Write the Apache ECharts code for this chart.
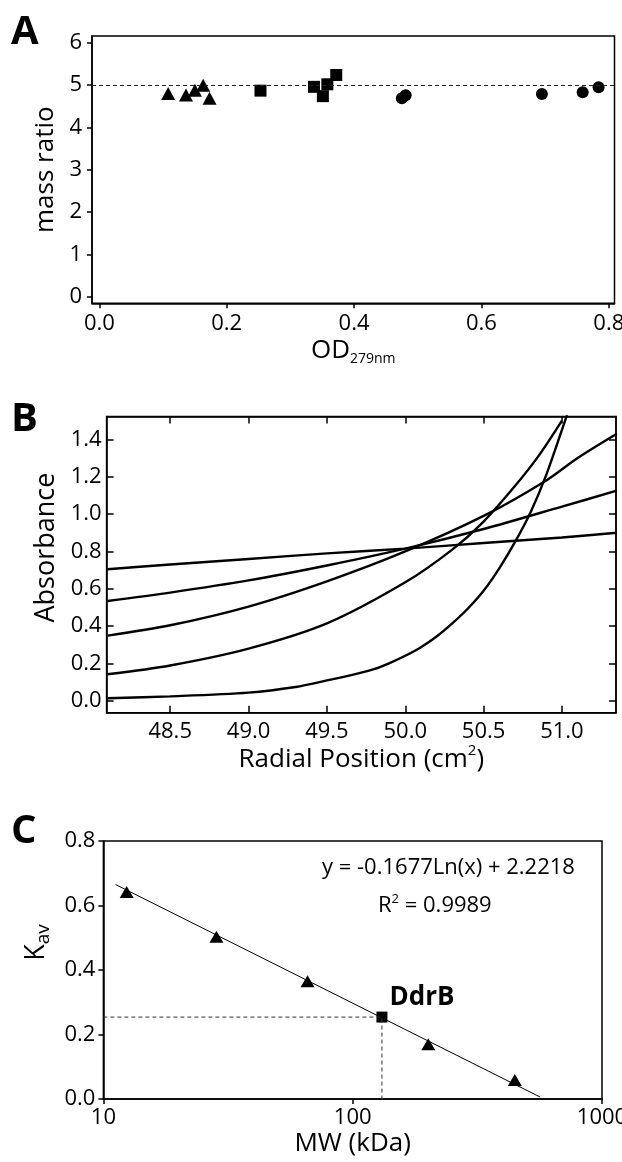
<!DOCTYPE html>
<html>
<head>
<meta charset="utf-8">
<script src="https://cdn.jsdelivr.net/npm/echarts@6/dist/echarts.min.js"></script>
<style>
  html, body { margin: 0; padding: 0; background: #fff; }
  #root { width: 622px; height: 1162px; }
</style>
</head>
<body>
<div id="root"></div>
<script>
// ---- panel A: mass ratio vs OD279nm ----
const triOD = [0.108, 0.136, 0.150, 0.163, 0.173]
const triRatio = [4.80, 4.77, 4.88, 5.00, 4.69]
const sqOD = [0.253, 0.337, 0.351, 0.358, 0.372]
const sqRatio = [4.87, 4.96, 4.74, 5.02, 5.24]
const cirOD = [0.475, 0.481, 0.695, 0.759, 0.784]
const cirRatio = [4.69, 4.76, 4.79, 4.83, 4.95]
const ratioLine = 5
const odTicks = [0, 0.2, 0.4, 0.6, 0.8]
const ratioTicks = [0, 1, 2, 3, 4, 5, 6]

// ---- panel B: absorbance scans ----
const scan1X = [48.1, 48.5, 49.0, 49.5, 50.0, 50.5, 51.0, 51.35]
const scan1Y = [0.705, 0.73, 0.76, 0.79, 0.815, 0.845, 0.875, 0.90]
const scan2X = [48.1, 48.5, 49.0, 49.5, 50.0, 50.5, 51.0, 51.35]
const scan2Y = [0.535, 0.58, 0.645, 0.725, 0.815, 0.92, 1.04, 1.125]
const scan3X = [48.1, 48.5, 49.0, 49.5, 50.0, 50.5, 50.9, 51.1, 51.35]
const scan3Y = [0.35, 0.405, 0.505, 0.64, 0.80, 0.99, 1.18, 1.30, 1.43]
const scan4X = [48.1, 48.5, 49.0, 49.5, 50.0, 50.3, 50.5, 50.7, 50.85, 51.0]
const scan4Y = [0.143, 0.19, 0.28, 0.415, 0.635, 0.81, 0.96, 1.15, 1.31, 1.50]
const scan5X = [48.1, 48.5, 49.0, 49.3, 49.5, 49.7, 49.8, 49.9, 50.0, 50.1, 50.2, 50.3, 50.4, 50.5, 50.6, 50.7, 50.8, 50.9, 51.0, 51.04]
const scan5Y = [0.015, 0.025, 0.045, 0.075, 0.11, 0.148, 0.17, 0.203, 0.242, 0.288, 0.345, 0.415, 0.495, 0.59, 0.71, 0.85, 1.01, 1.21, 1.45, 1.55]
const radialTicks = [48.5, 49.0, 49.5, 50.0, 50.5, 51.0]
const absTicks = [0, 0.2, 0.4, 0.6, 0.8, 1.0, 1.2, 1.4]

// ---- panel C: Kav vs MW ----
const stdMW = [12.4, 28.4, 65.9, 201, 447]
const stdKav = [0.642, 0.503, 0.365, 0.170, 0.059]
const fitMW = [11.2, 565]
const fitKav = [0.665, 0.006]
const ddrbMW = 131
const ddrbKav = 0.254
const mwTicks = [10, 100, 1000]
const kavTicks = [0, 0.2, 0.4, 0.6, 0.8]

const font = 'Open Sans'
const pairs = (xs, ys) => xs.map((x, i) => [x, ys[i]])

const axis = (gridIndex, o) => ({
  gridIndex,
  type: o.type || 'value',
  position: o.position,
  min: o.min,
  max: o.max,
  logBase: o.logBase,
  name: o.name,
  nameLocation: 'middle',
  nameGap: o.nameGap,
  nameTextStyle: o.nameTextStyle,
  axisLine: { show: true, onZero: false, lineStyle: { color: '#000', width: 1.5 } },
  axisTick: {
    show: true,
    inside: !!o.inside,
    length: o.tickLen || 5,
    customValues: o.ticks,
    lineStyle: { color: '#000', width: 1.5 }
  },
  minorTick: { show: false },
  axisLabel: {
    show: o.labels !== false,
    customValues: o.ticks,
    margin: o.margin || 8,
    color: '#000',
    fontSize: 22,
    fontFamily: font,
    formatter: o.formatter || (v => String(v))
  },
  splitLine: { show: false }
})

const fix1 = v => Number(v).toFixed(1)
const frame = { show: true, borderColor: '#000', borderWidth: 1.5, backgroundColor: 'transparent' }
const sub = (size, pad) => ({ fontSize: size, color: '#000', fontFamily: font, padding: pad })
const solid = { color: '#000', opacity: 1 }

const option = {
  animation: false,
  textStyle: { fontFamily: font },
  title: [
    { text: 'A', left: 11, top: 13, padding: 0, textStyle: { fontSize: 40, fontWeight: 'bold', color: '#000' } },
    { text: 'B', left: 11, top: 400, padding: 0, textStyle: { fontSize: 40, fontWeight: 'bold', color: '#000' } },
    { text: 'C', left: 11, top: 812, padding: 0, textStyle: { fontSize: 40, fontWeight: 'bold', color: '#000' } }
  ],
  grid: [
    Object.assign({ left: 92, top: 36, width: 522.5, height: 267.3, outerBoundsMode: 'none' }, frame),
    Object.assign({ left: 106.6, top: 416.5, width: 509.4, height: 296.2, outerBoundsMode: 'none' }, frame),
    Object.assign({ left: 103.4, top: 841, width: 498.6, height: 258, outerBoundsMode: 'none' }, frame)
  ],
  xAxis: [
    axis(0, {
      min: -0.0116, max: 0.809, ticks: odTicks, formatter: fix1, margin: 9,
      name: '{a|OD}{b|279nm}', nameGap: 31,
      nameTextStyle: { rich: { a: sub(26, 0), b: sub(14, [18, 0, 0, 0]) } }
    }),
    axis(1, {
      min: 48.094, max: 51.345, ticks: radialTicks, formatter: fix1, inside: true, tickLen: 7, margin: 8,
      name: '{a|Radial Position (cm}{b|2}{a|)}', nameGap: 31,
      nameTextStyle: { rich: { a: sub(26, 0), b: sub(15, [0, 0, 16, 0]) } }
    }),
    axis(1, { position: 'top', min: 48.094, max: 51.345, ticks: radialTicks, inside: true, tickLen: 7, labels: false }),
    axis(2, {
      type: 'log', logBase: 10, min: 10, max: 1000, ticks: mwTicks, margin: 8,
      name: 'MW (kDa)', nameGap: 32,
      nameTextStyle: { fontSize: 26, color: '#000' }
    })
  ],
  yAxis: [
    axis(0, {
      min: -0.15, max: 6.16, ticks: ratioTicks, margin: 10,
      name: 'mass ratio', nameGap: 28,
      nameTextStyle: { fontSize: 26, color: '#000' }
    }),
    axis(1, {
      min: -0.0626, max: 1.522, ticks: absTicks, formatter: fix1, inside: true, tickLen: 7, margin: 5,
      name: 'Absorbance', nameGap: 40,
      nameTextStyle: { fontSize: 27, color: '#000', padding: [0, 0, 0, 34] }
    }),
    axis(1, { position: 'right', min: -0.0626, max: 1.522, ticks: absTicks, inside: true, tickLen: 7, labels: false }),
    axis(2, {
      min: 0, max: 0.8, ticks: kavTicks, formatter: fix1, margin: 8,
      name: '{a|K}{b|av}', nameGap: 40,
      nameTextStyle: { padding: [0, 0, 0, 55], rich: { a: sub(27, 0), b: sub(19, [16, 0, 0, 0]) } }
    })
  ],
  series: [
    {
      type: 'scatter', xAxisIndex: 0, yAxisIndex: 0, symbol: 'triangle', symbolSize: [14, 13],
      itemStyle: solid, data: pairs(triOD, triRatio),
      markLine: {
        silent: true, symbol: 'none', label: { show: false },
        lineStyle: { type: [4, 3], color: '#222', width: 1 },
        data: [{ yAxis: ratioLine }]
      }
    },
    { type: 'scatter', xAxisIndex: 0, yAxisIndex: 0, symbol: 'rect', symbolSize: 12, itemStyle: solid, data: pairs(sqOD, sqRatio) },
    { type: 'scatter', xAxisIndex: 0, yAxisIndex: 0, symbol: 'circle', symbolSize: 12, itemStyle: solid, data: pairs(cirOD, cirRatio) },

    ...[[scan1X, scan1Y], [scan2X, scan2Y], [scan3X, scan3Y], [scan4X, scan4Y], [scan5X, scan5Y]].map(([xs, ys]) => ({
      type: 'line', xAxisIndex: 1, yAxisIndex: 1, smooth: 0.3, showSymbol: false, clip: true,
      lineStyle: { color: '#000', width: 2.4 }, data: pairs(xs, ys)
    })),

    {
      type: 'line', xAxisIndex: 3, yAxisIndex: 3, showSymbol: false,
      lineStyle: { color: '#000', width: 1 }, data: pairs(fitMW, fitKav)
    },
    {
      type: 'line', xAxisIndex: 3, yAxisIndex: 3, showSymbol: false,
      lineStyle: { color: '#333', width: 1, type: [4, 3] },
      data: [[mwTicks[0], ddrbKav], [ddrbMW, ddrbKav], [ddrbMW, 0]]
    },
    { type: 'scatter', xAxisIndex: 3, yAxisIndex: 3, symbol: 'triangle', symbolSize: [14, 12], itemStyle: solid, data: pairs(stdMW, stdKav) },
    {
      type: 'scatter', xAxisIndex: 3, yAxisIndex: 3, symbol: 'rect', symbolSize: 11, itemStyle: solid,
      label: { show: true, formatter: 'DdrB', position: [13, -27], fontSize: 26, fontWeight: 'bold', color: '#000', opacity: 1, fontFamily: font },
      data: [[ddrbMW, ddrbKav]]
    }
  ],
  graphic: [
    { type: 'text', left: 322, top: 857, style: { text: 'y = -0.1677Ln(x) + 2.2218', font: '22px "Open Sans"', fill: '#000' } },
    {
      type: 'text', left: 378, top: 893,
      style: {
        text: '{a|R}{b|2}{a| = 0.9989}',
        rich: { a: { fontSize: 22, fontFamily: font, fill: '#000' }, b: { fontSize: 13, fontFamily: font, fill: '#000', padding: [0, 0, 12, 0] } }
      }
    }
  ]
}

const chart = echarts.init(document.getElementById('root'))
chart.setOption(option)
</script>
</body>
</html>
